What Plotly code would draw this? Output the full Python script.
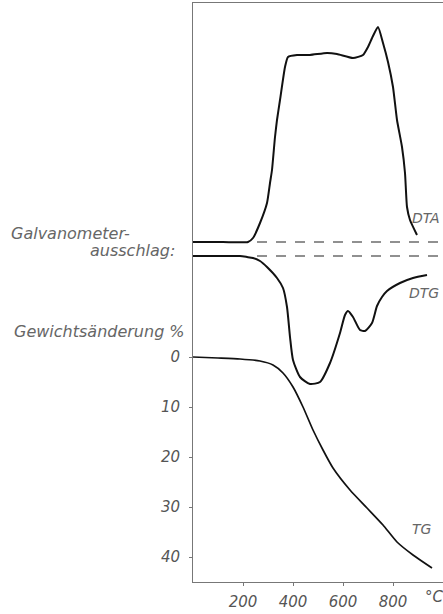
import plotly.graph_objects as go

# ---- data ----
# DTA (galvanometer deflection, arbitrary units, up = positive)
dta_temp = [0, 120, 220, 240, 268, 296, 308, 316, 328, 336, 348, 368, 380, 416, 468, 536, 576, 640, 680, 700, 720, 740, 760, 780, 800, 816, 836, 848, 856, 868, 896]
dta_val = [0, 0, 0, 4, 19, 39, 59, 72, 105, 122, 142, 175, 185, 187, 187, 189, 188, 184, 187, 195, 206, 215, 199, 180, 155, 122, 95, 69, 35, 22, 7]

# DTG (galvanometer deflection, arbitrary units)
dtg_temp = [0, 120, 188, 216, 240, 268, 296, 336, 360, 376, 388, 400, 428, 468, 508, 548, 588, 608, 620, 640, 668, 688, 716, 736, 756, 776, 828, 880, 936]
dtg_val = [0, 0, 0, -1, -2, -5, -11, -22, -32, -51, -81, -104, -121, -128, -126, -107, -77, -59, -55, -61, -74, -75, -67, -50, -41, -35, -27, -22, -19]

# TG (weight change, %)
tg_temp = [0, 100, 188, 268, 320, 360, 400, 440, 480, 520, 560, 628, 696, 760, 816, 880, 956]
tg_val = [0, 0.2, 0.4, 0.8, 1.6, 3.2, 6.0, 10.0, 14.6, 18.6, 22.2, 26.6, 30.2, 33.6, 37.0, 39.6, 42.2]

baseline_temp = [256, 1000]
baseline_val = [0, 0]

x_ticks = [200, 400, 600, 800]
y_ticks = [0, 10, 20, 30, 40]

FONT = "DejaVu Sans"
GREY = "#666666"

fig = go.Figure()

fig.add_trace(go.Scatter(x=baseline_temp, y=baseline_val, yaxis="y2", mode="lines",
                         line=dict(color="#222", width=1.2, dash="10px,9px"), hoverinfo="skip"))
fig.add_trace(go.Scatter(x=baseline_temp, y=baseline_val, yaxis="y3", mode="lines",
                         line=dict(color="#222", width=1.2, dash="10px,9px"), hoverinfo="skip"))

fig.add_trace(go.Scatter(x=dta_temp, y=dta_val, yaxis="y2", mode="lines", name="DTA",
                         line=dict(color="#111", width=2, shape="spline", smoothing=0.5)))
fig.add_trace(go.Scatter(x=dtg_temp, y=dtg_val, yaxis="y3", mode="lines", name="DTG",
                         line=dict(color="#111", width=2, shape="spline", smoothing=0.6)))
fig.add_trace(go.Scatter(x=tg_temp, y=tg_val, yaxis="y", mode="lines", name="TG",
                         line=dict(color="#111", width=1.7, shape="spline", smoothing=0.6)))

tickfont = dict(family=FONT, size=15, color="#555", style="italic")

fig.update_layout(
    width=443, height=614,
    margin=dict(l=193, r=0, t=3, b=32),
    paper_bgcolor="white", plot_bgcolor="white",
    showlegend=False,
    xaxis=dict(range=[0, 1000], tickvals=x_ticks, ticktext=[str(v) for v in x_ticks],
               showgrid=False, zeroline=False, showline=True, linecolor="#777", linewidth=1,
               mirror=True, ticks="outside", ticklen=3, tickcolor="#777",
               tickfont=tickfont, ticklabelstandoff=3),
    yaxis=dict(range=[45, -70.8], tickvals=y_ticks, ticktext=[str(v) for v in y_ticks],
               showgrid=False, zeroline=False, showline=True, linecolor="#777", linewidth=1,
               ticks="outside", ticklen=3, tickcolor="#777",
               tickfont=tickfont, ticklabelstandoff=6),
    yaxis2=dict(range=[-340, 239], overlaying="y", visible=False),
    yaxis3=dict(range=[-326, 253], overlaying="y", visible=False),
)

leftfont = dict(family=FONT, size=16, color=GREY, style="italic")
curvefont = dict(family=FONT, size=14, color=GREY, style="italic")
ann = [
    dict(text="Galvanometer-", xref="paper", yref="paper", x=(9 - 193) / 250, y=(582 - 233) / 579,
         xanchor="left", yanchor="middle", font=leftfont),
    dict(text="ausschlag:", xref="paper", yref="paper", x=(177 - 193) / 250, y=(582 - 250) / 579,
         xanchor="right", yanchor="middle", font=leftfont),
    dict(text="Gewichtsänderung %", xref="paper", yref="paper", x=(187 - 193) / 250, y=(582 - 331) / 579,
         xanchor="right", yanchor="middle", font=leftfont),
    dict(text="DTA", xref="x", yref="y2", x=(410 - 193) * 4, y=242 - 218, xanchor="left", yanchor="middle",
         font=curvefont),
    dict(text="DTG", xref="x", yref="y3", x=(407 - 193) * 4, y=256 - 293, xanchor="left", yanchor="middle",
         font=curvefont),
    dict(text="TG", xref="x", yref="y", x=(410 - 193) * 4, y=(529 - 357) / 5, xanchor="left", yanchor="middle",
         font=curvefont),
    dict(text="°C", xref="paper", yref="paper", x=(434 - 193) / 250, y=(582 - 597) / 579,
         xanchor="center", yanchor="middle", font=tickfont),
]
for a in ann:
    a.update(showarrow=False)
fig.update_layout(annotations=ann)

fig.write_html(
    "out.html",
    config={"displayModeBar": False},
    post_script="document.body.style.margin='0';document.body.style.padding='0';"
                "document.body.style.overflow='hidden';",
)
